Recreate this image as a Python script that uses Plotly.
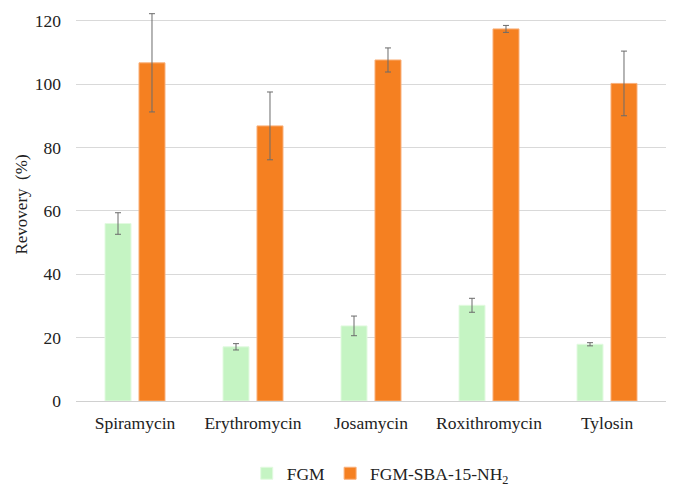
import plotly.graph_objects as go

categories = ["Spiramycin", "Erythromycin", "Josamycin", "Roxithromycin", "Tylosin"]
fgm = [56.0, 17.1, 23.7, 30.2, 17.9]
fgm_err = [3.4, 1.0, 3.1, 2.2, 0.5]
sba = [106.7, 86.8, 107.6, 117.4, 100.2]
sba_err = [15.5, 10.7, 3.8, 1.1, 10.2]

font_family = "Liberation Serif, Times New Roman, serif"
err_style = dict(type="data", visible=True, color="#6b6b6b", thickness=1, width=3)

fig = go.Figure()
fig.add_trace(go.Bar(
    x=categories, y=fgm, name="FGM",
    marker=dict(color="#c5f4c3", line=dict(color="#e2fae0", width=1)),
    error_y=dict(array=fgm_err, **err_style),
))
fig.add_trace(go.Bar(
    x=categories, y=sba, name="FGM-SBA-15-NH<sub>2</sub>",
    marker=dict(color="#f58021", line=dict(color="#f9b07a", width=1)),
    error_y=dict(array=sba_err, **err_style),
))

fig.update_layout(
    width=673, height=487,
    margin=dict(l=76, r=7, t=8, b=86),
    paper_bgcolor="white", plot_bgcolor="white",
    barmode="group", bargap=0.424, bargroupgap=0.235,
    font=dict(family=font_family, size=17.5, color="#222222"),
    showlegend=True,
    legend=dict(orientation="h", x=0.565, xanchor="center", xref="container",
                y=0.028, yanchor="middle", yref="container",
                font=dict(size=17.5, family=font_family)),
    xaxis=dict(showgrid=False, showline=False, ticks="", automargin=False,
               tickfont=dict(size=17.5, family=font_family),
               ticklabelstandoff=9, range=[-0.5, 4.5]),
    yaxis=dict(range=[0, 124], dtick=20, tick0=0, showgrid=True, gridcolor="#d9d9d9",
               gridwidth=1, zeroline=True, zerolinecolor="#d0d0d0", zerolinewidth=1,
               showline=False, ticks="", automargin=False,
               tickfont=dict(size=17.5, family=font_family), ticklabelstandoff=14,
               title=dict(text="Revovery  (%)", font=dict(size=17, family=font_family),
                          standoff=2)),
)

fig.write_html("out.html", config={"displayModeBar": False},
               post_script="document.body.style.margin='0';")
